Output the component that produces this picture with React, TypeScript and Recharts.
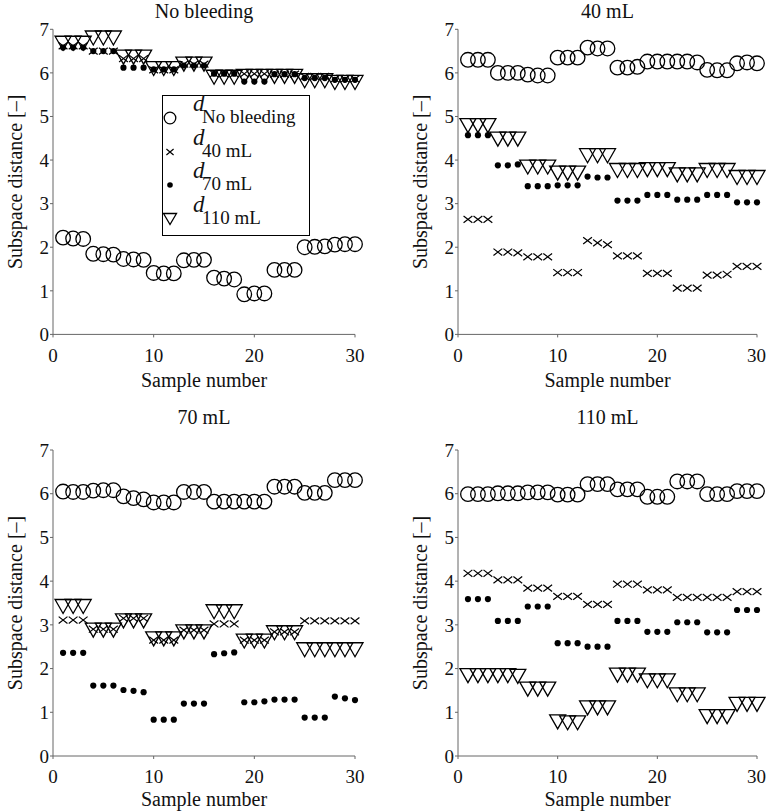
import { Scatter, ScatterChart, XAxis, YAxis } from "recharts";

const samples = Array.from({ length: 30 }, (_, i) => i + 1);
const xTicks = [0, 10, 20, 30];
const yTicks = [0, 1, 2, 3, 4, 5, 6, 7];

const seriesNames = ["No bleeding", "40 mL", "70 mL", "110 mL"];
const panelTitles = ["No bleeding", "40 mL", "70 mL", "110 mL"];

// panel "No bleeding"
const nbNone = [2.22, 2.2, 2.19, 1.85, 1.84, 1.83, 1.73, 1.72, 1.71, 1.41, 1.4, 1.4, 1.7, 1.71, 1.71, 1.3, 1.28, 1.26, 0.92, 0.94, 0.94, 1.48, 1.48, 1.48, 2.0, 2.01, 2.02, 2.06, 2.07, 2.07];
const nb40 = [6.62, 6.62, 6.62, 6.5, 6.5, 6.5, 6.33, 6.33, 6.33, 6.07, 6.07, 6.07, 6.2, 6.2, 6.2, 5.98, 5.98, 5.98, 5.98, 5.98, 5.98, 5.97, 5.97, 5.97, 5.92, 5.92, 5.92, 5.86, 5.86, 5.86];
const nb70 = [6.58, 6.58, 6.58, 6.5, 6.5, 6.5, 6.12, 6.12, 6.12, 6.08, 6.08, 6.08, 6.17, 6.17, 6.17, 5.98, 5.98, 5.98, 5.8, 5.8, 5.8, 5.97, 5.97, 5.97, 5.88, 5.88, 5.88, 5.84, 5.84, 5.84];
const nb110 = [6.68, 6.68, 6.68, 6.8, 6.8, 6.8, 6.36, 6.36, 6.36, 6.1, 6.1, 6.1, 6.2, 6.2, 6.2, 5.9, 5.9, 5.9, 5.92, 5.92, 5.92, 5.92, 5.92, 5.92, 5.82, 5.82, 5.82, 5.78, 5.78, 5.78];

// panel "40 mL"
const p40None = [6.3, 6.3, 6.3, 6.0, 6.0, 6.0, 5.96, 5.94, 5.94, 6.35, 6.35, 6.35, 6.58, 6.56, 6.56, 6.12, 6.12, 6.14, 6.26, 6.26, 6.26, 6.26, 6.26, 6.24, 6.07, 6.06, 6.06, 6.22, 6.24, 6.22];
const p40_40 = [2.64, 2.64, 2.64, 1.89, 1.89, 1.87, 1.78, 1.78, 1.78, 1.42, 1.42, 1.42, 2.15, 2.1, 2.06, 1.8, 1.8, 1.8, 1.4, 1.4, 1.4, 1.06, 1.06, 1.06, 1.36, 1.36, 1.38, 1.56, 1.56, 1.56];
const p40_70 = [4.57, 4.57, 4.57, 3.88, 3.88, 3.9, 3.4, 3.4, 3.4, 3.42, 3.42, 3.42, 3.62, 3.6, 3.6, 3.07, 3.07, 3.07, 3.2, 3.2, 3.2, 3.09, 3.09, 3.09, 3.2, 3.2, 3.2, 3.03, 3.03, 3.03];
const p40_110 = [4.79, 4.79, 4.79, 4.48, 4.48, 4.48, 3.84, 3.84, 3.84, 3.7, 3.7, 3.7, 4.1, 4.1, 4.1, 3.76, 3.76, 3.76, 3.78, 3.78, 3.78, 3.66, 3.66, 3.66, 3.76, 3.76, 3.76, 3.6, 3.6, 3.6];

// panel "70 mL"
const p70None = [6.05, 6.04, 6.04, 6.07, 6.08, 6.08, 5.94, 5.9, 5.87, 5.8, 5.8, 5.8, 6.04, 6.04, 6.04, 5.82, 5.82, 5.82, 5.82, 5.82, 5.82, 6.16, 6.16, 6.16, 6.02, 6.02, 6.02, 6.31, 6.31, 6.31];
const p70_40 = [3.11, 3.11, 3.11, 2.9, 2.9, 2.9, 3.15, 3.15, 3.15, 2.65, 2.65, 2.65, 2.88, 2.88, 2.88, 3.02, 3.02, 3.02, 2.65, 2.65, 2.65, 2.84, 2.84, 2.84, 3.09, 3.09, 3.09, 3.09, 3.09, 3.09];
const p70_70 = [2.36, 2.36, 2.36, 1.61, 1.61, 1.61, 1.51, 1.49, 1.46, 0.83, 0.83, 0.83, 1.2, 1.2, 1.2, 2.33, 2.35, 2.37, 1.23, 1.23, 1.25, 1.29, 1.29, 1.29, 0.88, 0.88, 0.88, 1.36, 1.32, 1.28];
const p70_110 = [3.42, 3.42, 3.42, 2.88, 2.88, 2.88, 3.09, 3.09, 3.09, 2.68, 2.68, 2.68, 2.84, 2.84, 2.84, 3.3, 3.3, 3.3, 2.63, 2.63, 2.63, 2.82, 2.82, 2.82, 2.43, 2.43, 2.43, 2.43, 2.43, 2.43];

// panel "110 mL"
const p110None = [5.99, 5.99, 5.99, 6.01, 6.01, 6.01, 6.03, 6.03, 6.03, 5.98, 5.98, 5.98, 6.22, 6.22, 6.22, 6.1, 6.1, 6.1, 5.93, 5.93, 5.93, 6.28, 6.28, 6.28, 5.99, 5.99, 5.99, 6.06, 6.06, 6.06];
const p110_40 = [4.18, 4.18, 4.18, 4.03, 4.03, 4.03, 3.84, 3.84, 3.84, 3.65, 3.65, 3.65, 3.47, 3.47, 3.47, 3.93, 3.93, 3.93, 3.8, 3.8, 3.8, 3.63, 3.63, 3.63, 3.63, 3.63, 3.63, 3.76, 3.76, 3.76];
const p110_70 = [3.59, 3.59, 3.59, 3.09, 3.09, 3.09, 3.42, 3.42, 3.42, 2.58, 2.58, 2.58, 2.5, 2.5, 2.5, 3.09, 3.09, 3.09, 2.84, 2.84, 2.84, 3.06, 3.06, 3.06, 2.83, 2.83, 2.83, 3.34, 3.34, 3.34];
const p110_110 = [1.84, 1.84, 1.84, 1.84, 1.84, 1.82, 1.53, 1.53, 1.53, 0.78, 0.76, 0.76, 1.1, 1.1, 1.1, 1.85, 1.85, 1.85, 1.72, 1.72, 1.72, 1.4, 1.4, 1.4, 0.9, 0.9, 0.9, 1.18, 1.18, 1.18];

const FONT = "Liberation Serif, DejaVu Serif, serif";
const AXIS = "#666";

const toPoints = (vals: number[]) => samples.map((s, i) => ({ x: s, y: vals[i] }));

const CircleMark = ({ cx, cy, r = 7.3 }: any) => (
  <circle cx={cx} cy={cy} r={r} fill="none" stroke="#000" strokeWidth={1.3} />
);
const CrossMark = ({ cx, cy, w = 4.4, h = 3.4 }: any) => (
  <path d={`M${cx - w},${cy - h}L${cx + w},${cy + h}M${cx - w},${cy + h}L${cx + w},${cy - h}`} stroke="#000" strokeWidth={1.2} fill="none" />
);
const DotMark = ({ cx, cy, r = 3.1 }: any) => <circle cx={cx} cy={cy} r={r} fill="#000" />;
const TriMark = ({ cx, cy, w = 8, h = 7 }: any) => (
  <path d={`M${cx - w},${cy - h}L${cx + w},${cy - h}L${cx},${cy + h}Z`} fill="none" stroke="#000" strokeWidth={1.3} />
);

interface PanelProps {
  title: string;
  left: number;
  top: number;
  series: number[][];
  ml: number;
  mr: number;
  mt: number;
  mb: number;
  xh: number;
  legend?: boolean;
}

const W = 383;
const H = 406;
const tickStyle = { fill: "#111", fontSize: 19, fontFamily: FONT, style: { fontFamily: FONT } };

function Panel({ title, left, top, series, ml, mr, mt, mb, xh, legend }: PanelProps) {
  const plotCenter = ml + 45 + (W - ml - 45 - mr) / 2;
  return (
    <div style={{ position: "absolute", left, top, width: W, height: H, fontFamily: FONT }}>
      <div
        style={{
          position: "absolute",
          left: plotCenter - 100,
          top: -1,
          width: 200,
          textAlign: "center",
          fontSize: 20,
          lineHeight: "24px",
          color: "#111",
        }}
      >
        {title}
      </div>
      <ScatterChart width={W} height={H} margin={{ top: mt, right: mr, bottom: mb, left: ml }} style={{ fontFamily: FONT }}>
        <XAxis
          type="number"
          dataKey="x"
          domain={[0, 30]}
          ticks={xTicks}
          height={xh}
          stroke={AXIS}
          tickSize={3}
          tickMargin={11}
          tick={tickStyle}
          label={{
            value: "Sample number",
            position: "insideBottom",
            offset: 0,
            fill: "#111",
            fontSize: 20,
            fontFamily: FONT,
            style: { fontFamily: FONT },
          }}
        />
        <YAxis
          type="number"
          dataKey="y"
          domain={[0, 7]}
          ticks={yTicks}
          width={45}
          stroke={AXIS}
          tickSize={3}
          tickMargin={1}
          tick={tickStyle}
          label={{
            value: "Subspace distance [–]",
            angle: -90,
            position: "insideLeft",
            offset: 7,
            fill: "#111",
            fontSize: 20,
            style: { textAnchor: "middle", fontFamily: FONT },
          }}
        />
        <Scatter data={toPoints(series[0])} shape={(p: any) => <CircleMark cx={p.cx} cy={p.cy} />} isAnimationActive={false} />
        <Scatter data={toPoints(series[1])} shape={(p: any) => <CrossMark cx={p.cx} cy={p.cy} />} isAnimationActive={false} />
        <Scatter data={toPoints(series[2])} shape={(p: any) => <DotMark cx={p.cx} cy={p.cy} />} isAnimationActive={false} />
        <Scatter data={toPoints(series[3])} shape={(p: any) => <TriMark cx={p.cx} cy={p.cy} />} isAnimationActive={false} />
      </ScatterChart>
      {legend && <LegendBox />}
    </div>
  );
}

function LegendBox() {
  const marks = [
    <CircleMark cx={10} cy={10} r={5.8} />,
    <CrossMark cx={10} cy={10} w={3.6} h={3} />,
    <DotMark cx={10} cy={10} r={2.8} />,
    <TriMark cx={10} cy={10} w={6.5} h={5.5} />,
  ];
  return (
    <div
      style={{
        position: "absolute",
        left: 162,
        top: 95,
        width: 146,
        height: 139,
        border: "1.3px solid #000",
        background: "#fff",
        fontFamily: FONT,
        color: "#111",
      }}
    >
      {seriesNames.map((name, i) => {
        const cy = 22 + 33.5 * i;
        return (
          <div key={name}>
            <svg style={{ position: "absolute", left: -3, top: cy - 10 }} width={20} height={20}>
              {marks[i]}
            </svg>
            <span style={{ position: "absolute", left: 30, top: cy - 27, fontSize: 23, lineHeight: "26px", fontStyle: "italic" }}>d</span>
            <span style={{ position: "absolute", left: 39, top: cy - 12, fontSize: 19, lineHeight: "22px", whiteSpace: "nowrap" }}>{name}</span>
          </div>
        );
      })}
    </div>
  );
}

export default function App() {
  return (
    <div style={{ position: "absolute", left: 0, top: 0, width: 767, height: 812, background: "#fff", fontFamily: FONT }}>
      <Panel title={panelTitles[0]} left={0} top={0} series={[nbNone, nb40, nb70, nb110]} ml={8} mr={28} mt={29.3} mb={18.6} xh={53} legend />
      <Panel title={panelTitles[1]} left={383} top={0} series={[p40None, p40_40, p40_70, p40_110]} ml={30} mr={9} mt={29.3} mb={18.6} xh={53} />
      <Panel title={panelTitles[2]} left={0} top={406} series={[p70None, p70_40, p70_70, p70_110]} ml={8} mr={28} mt={44} mb={6} xh={50} />
      <Panel title={panelTitles[3]} left={383} top={406} series={[p110None, p110_40, p110_70, p110_110]} ml={30} mr={9} mt={44} mb={6} xh={50} />
    </div>
  );
}
